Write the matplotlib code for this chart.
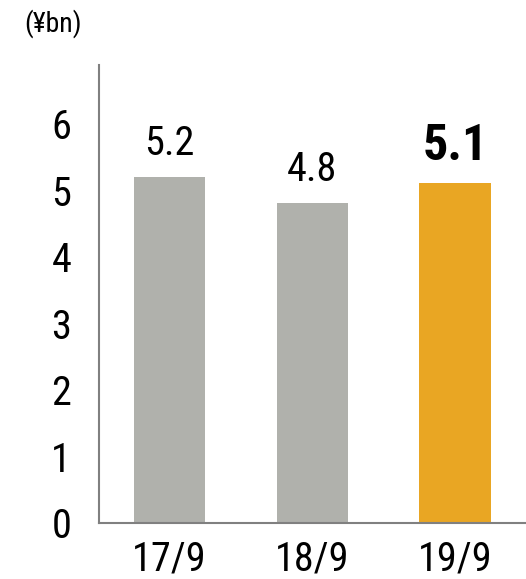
import matplotlib
matplotlib.use("Agg")
import matplotlib.pyplot as plt

periods = ["17/9", "18/9", "19/9"]
values = [5.2, 4.8, 5.1]
bar_colors = ["#b0b1ac", "#b0b1ac", "#e9a623"]
yticks = [0, 1, 2, 3, 4, 5, 6]

plt.rcParams['font.family'] = ['Roboto Condensed', 'DejaVu Sans']

fig = plt.figure(figsize=(5.26, 5.79), dpi=100)
ax = fig.add_axes([99/526, 56/579, 427/526, 458/579])

x = range(len(periods))
ax.bar(x, values, width=0.5, color=bar_colors)

for i, v in enumerate(values):
    last = i == len(values) - 1
    ax.annotate(f"{v:.1f}", (i, v), xytext=(0, 17 if last else 16),
                textcoords='offset points', ha='center', va='baseline',
                fontsize=36 if last else 29,
                fontweight='bold' if last else 'normal')

ax.set_xlim(-0.493, 2.497)
ax.set_ylim(0, 6.88)
ax.set_xticks(list(x))
ax.set_xticklabels(periods, fontsize=29)
ax.set_yticks(yticks)
ax.set_yticklabels([str(t) for t in yticks], fontsize=29)
ax.tick_params(length=0)
ax.tick_params(axis='x', pad=12)
ax.tick_params(axis='y', pad=20)

for s in ['top', 'right']:
    ax.spines[s].set_visible(False)
for s in ['left', 'bottom']:
    ax.spines[s].set_color('#808080')
    ax.spines[s].set_linewidth(1.5)

fig.text(24/526, 1 - 24/579, "(¥bn)", fontsize=20, va='center', ha='left')

fig.savefig("out.png", dpi=100)
